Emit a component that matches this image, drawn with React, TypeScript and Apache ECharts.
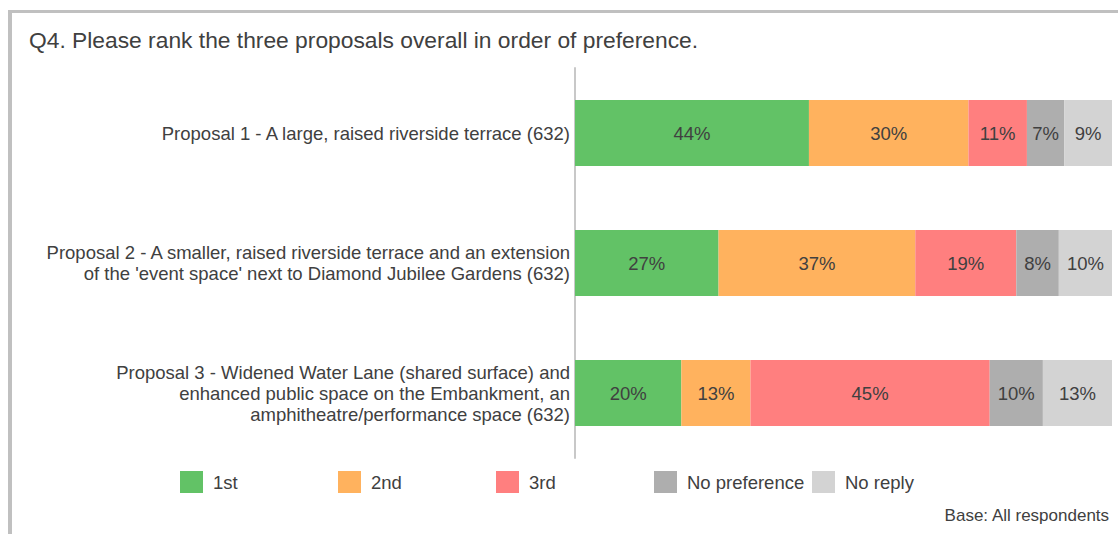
import React, { useEffect, useRef } from "react";
import * as echarts from "echarts";

const categories = [
  "Proposal 1 - A large, raised riverside terrace (632)",
  "Proposal 2 - A smaller, raised riverside terrace and an extension\nof the 'event space' next to Diamond Jubilee Gardens (632)",
  "Proposal 3 - Widened Water Lane (shared surface) and\nenhanced public space on the Embankment, an\namphitheatre/performance space (632)",
];
const seriesNames = ["1st", "2nd", "3rd", "No preference", "No reply"];
const first = [44, 27, 20];
const second = [30, 37, 13];
const third = [11, 19, 45];
const noPreference = [7, 8, 10];
const noReply = [9, 10, 13];
const seriesValues = [first, second, third, noPreference, noReply];
const colors = ["#62c266", "#ffb25e", "#ff7f7f", "#aeaeae", "#d3d3d3"];

const FONT = "'Liberation Sans', Arial, sans-serif";
const TEXT = "#404040";

export default function App() {
  const ref = useRef<HTMLDivElement>(null);
  useEffect(() => {
    if (!ref.current) return;
    const chart = echarts.init(ref.current, undefined, { renderer: "svg" });
    const legendLefts = [175, 333, 491, 649, 807];
    chart.setOption({
      animation: false,
      textStyle: { fontFamily: FONT },
      title: {
        text: "Q4. Please rank the three proposals overall in order of preference.",
        left: 24,
        top: 23,
        textStyle: { fontFamily: FONT, fontSize: 22.8, fontWeight: "normal", color: TEXT },
      },
      legend: seriesNames.map((n, i) => ({
        data: [n],
        left: legendLefts[i],
        top: 466,
        itemWidth: 23,
        itemHeight: 22,
        icon: "rect",
        itemGap: 0,
        textStyle: { fontFamily: FONT, fontSize: 18.5, color: TEXT, padding: [0, 0, 0, 5] },
      })),
      grid: { left: 575, right: 6, top: 68, bottom: 76, containLabel: false },
      xAxis: {
        type: "value",
        min: 0,
        max: 101,
        show: false,
      },
      yAxis: {
        type: "category",
        data: categories,
        inverse: true,
        axisLine: { show: true, lineStyle: { color: "#c8c8c8", width: 2 } },
        axisTick: { show: false },
        axisLabel: {
          fontFamily: FONT,
          fontSize: 18.5,
          color: TEXT,
          lineHeight: 21,
          margin: 5,
          align: "right",
        },
      },
      series: seriesNames.map((n, i) => ({
        name: n,
        type: "bar",
        stack: "total",
        barWidth: 66,
        data: seriesValues[i],
        itemStyle: { color: colors[i] },
        label: {
          show: true,
          position: "inside",
          formatter: "{c}%",
          fontFamily: FONT,
          fontSize: 18.5,
          color: TEXT,
        },
      })),
      graphic: [
        { type: "rect", left: 8, top: 10, shape: { width: 4, height: 524 }, style: { fill: "#c0c0c0" } },
        { type: "rect", left: 8, top: 10, shape: { width: 1110, height: 3 }, style: { fill: "#c0c0c0" } },
        {
          type: "text",
          right: 8,
          top: 507,
          style: { text: "Base: All respondents", fontFamily: FONT, fontSize: 17, fill: TEXT },
        },
      ],
    });
    return () => chart.dispose();
  }, []);
  return (
    <div
      ref={ref}
      style={{ position: "absolute", left: 0, top: 0, width: 1118, height: 534, background: "#fff" }}
    />
  );
}
